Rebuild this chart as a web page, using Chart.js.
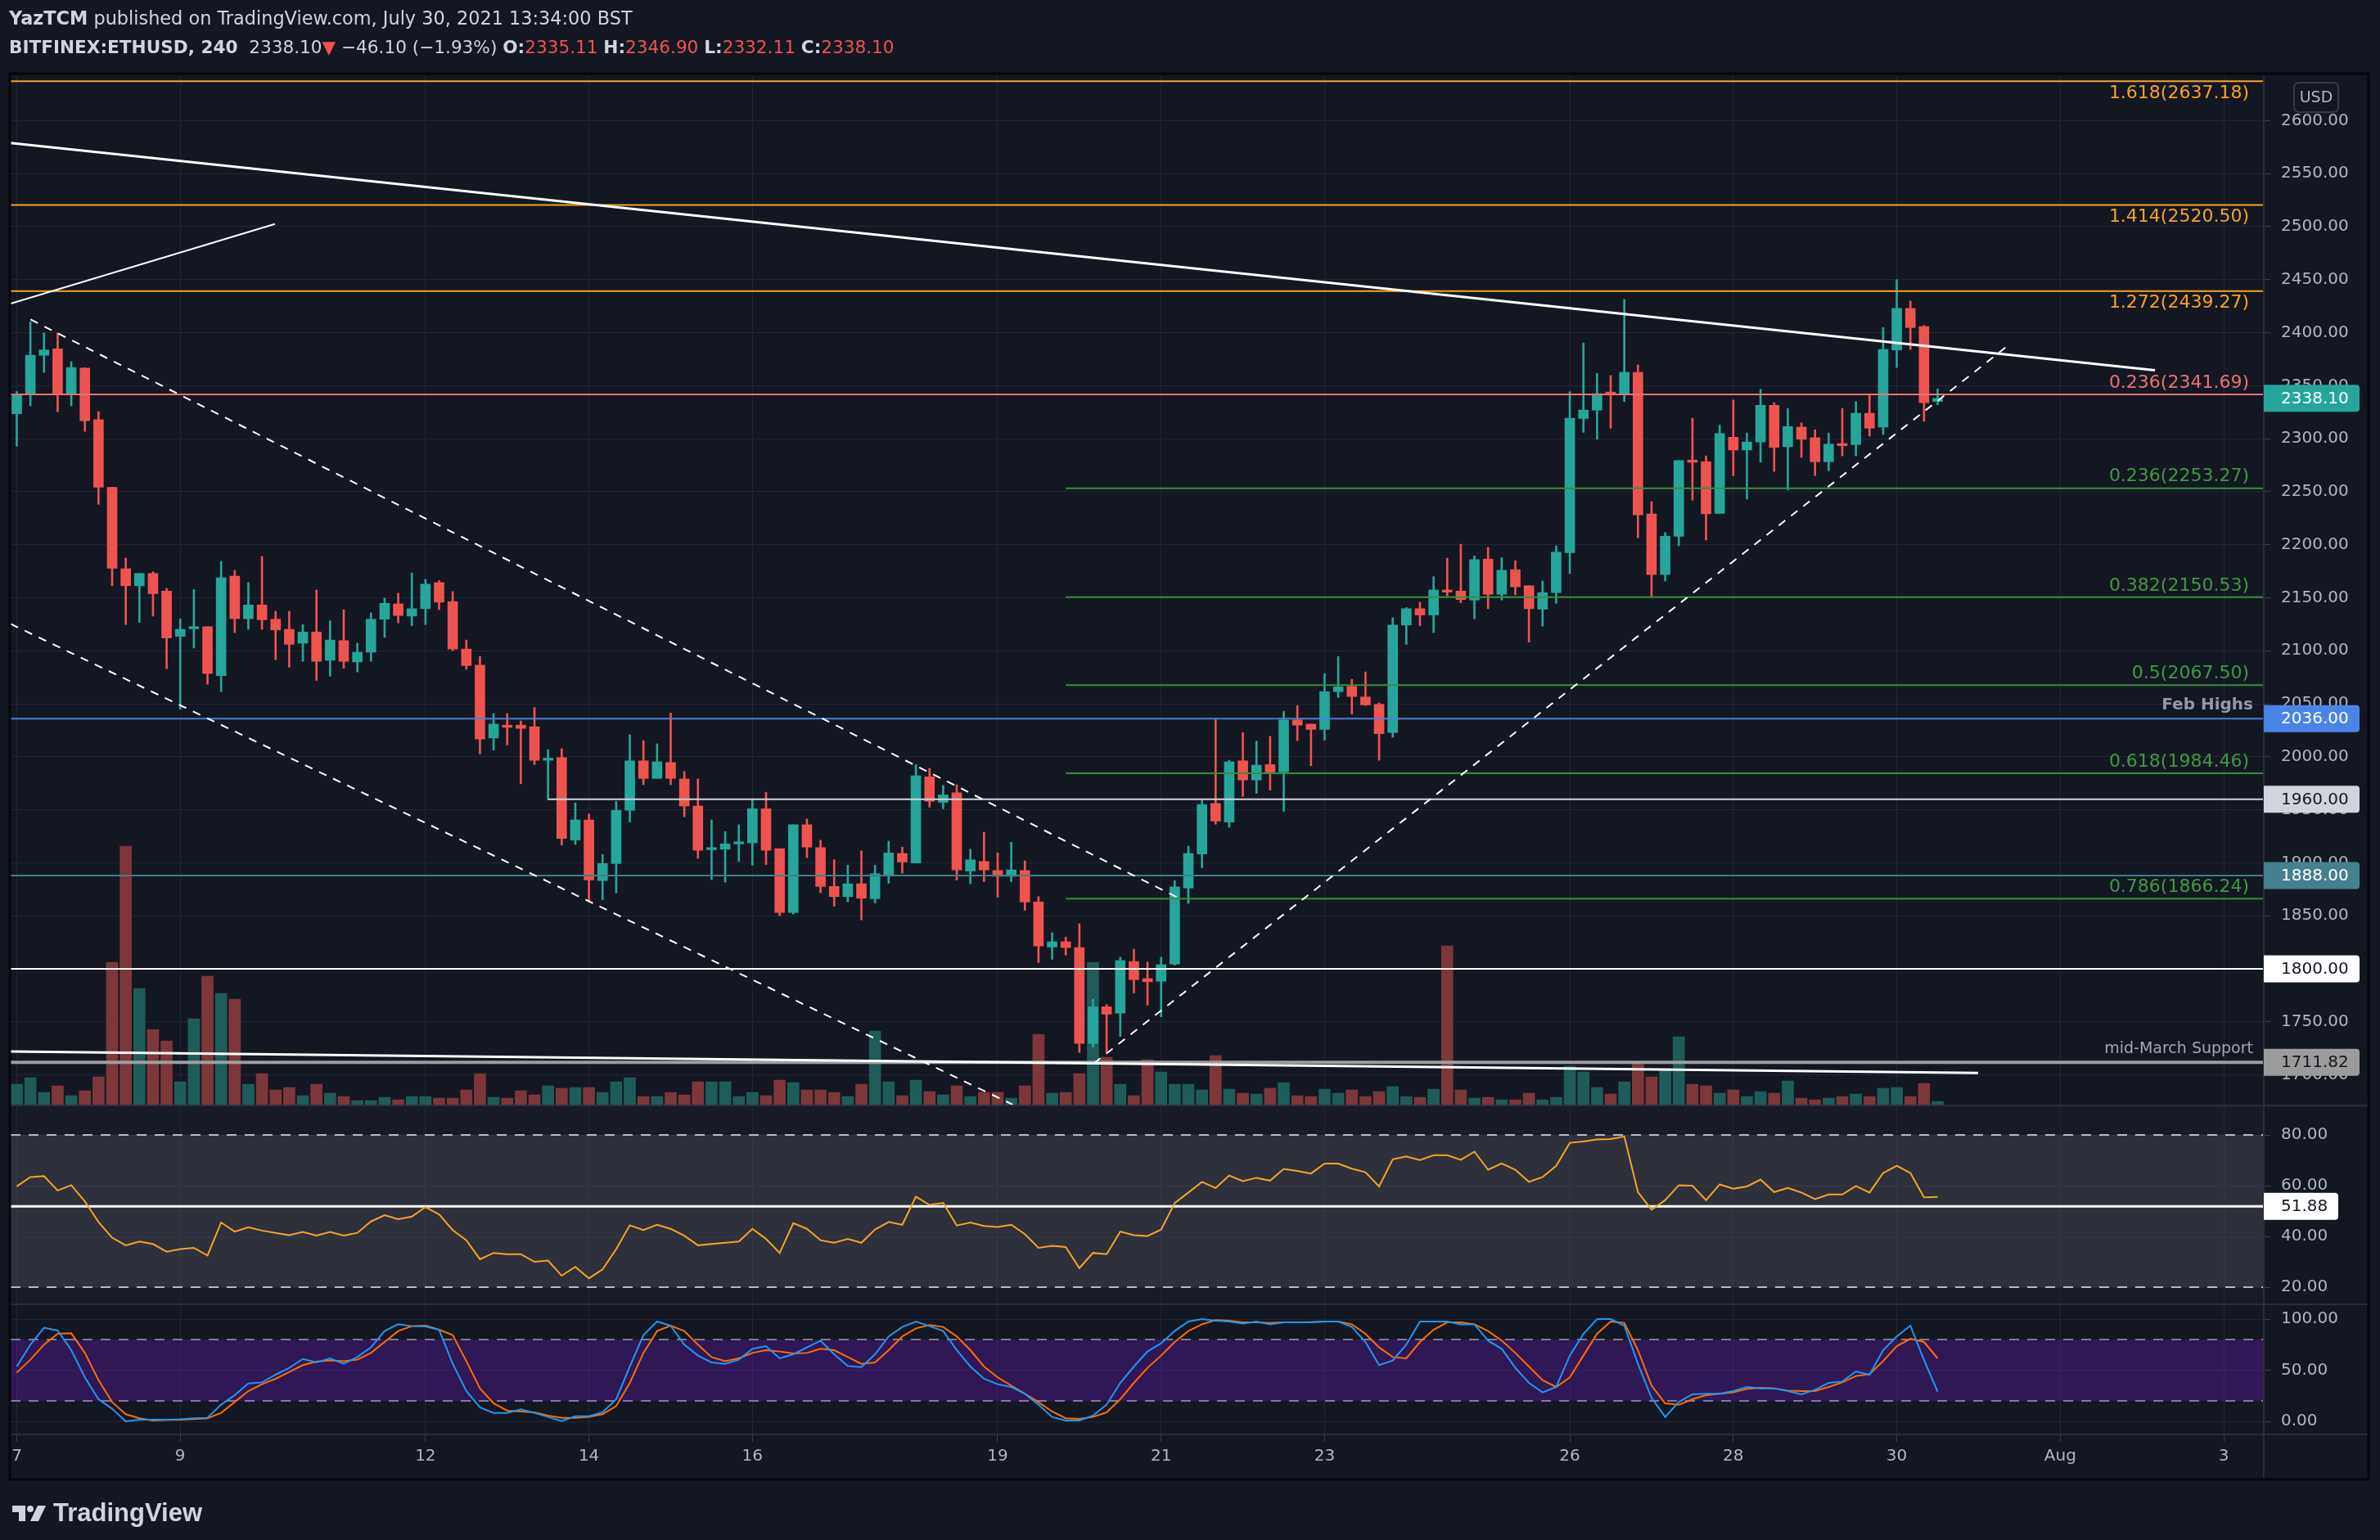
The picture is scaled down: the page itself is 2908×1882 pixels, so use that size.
<!DOCTYPE html>
<html><head><meta charset="utf-8">
<script src="https://cdn.jsdelivr.net/npm/chart.js@4/dist/chart.umd.min.js"></script>
<style>
html,body{margin:0;padding:0;background:#131722;width:2908px;height:1882px;overflow:hidden;}
#wrap{position:relative;width:2908px;height:1882px;}
canvas{position:absolute;left:0;top:0;}
.hd{position:absolute;left:11px;font-family:"DejaVu Sans";color:#d1d4dc;white-space:nowrap;line-height:26px;}
.red{color:#ef5350}
#logo{position:absolute;left:15px;top:1831px;display:flex;align-items:center;color:#d1d4dc;font:bold 31px "Liberation Sans";}
</style></head>
<body><div id="wrap"><canvas id="c" width="2908" height="1882"></canvas>
<div class="hd" style="top:9px;font-size:22.4px;"><b>YazTCM</b> published on TradingView.com, July 30, 2021 13:34:00 BST</div>
<div class="hd" style="top:45px;font-size:21.6px;"><b>BITFINEX:ETHUSD, 240</b>&nbsp; 2338.10<span class="red">▼</span> −46.10 (−1.93%) <b>O:</b><span class="red">2335.11</span> <b>H:</b><span class="red">2346.90</span> <b>L:</b><span class="red">2332.11</span> <b>C:</b><span class="red">2338.10</span></div>
<div id="logo"><svg width="44" height="24" viewBox="0 0 44 24"><path d="M0 3h16v19H8V11H0z" fill="#d1d4dc"/><circle cx="22" cy="7" r="4" fill="#d1d4dc"/><path d="M31 3h10l-9 19H22z" fill="#d1d4dc"/></svg><span style="margin-left:6px">TradingView</span></div>
</div>
<script>
// ---------------- DATA (ETHUSD 4h, Bitfinex, from Jul 7 2021 00:00) ----------------
const opens = [2323.5,2342,2378.7,2384.7,2342,2366.6,2317.9,2254.2,2177.4,2161.3,2172.9,2156.3,2113.6,2120.7,2122.7,2076.5,2170.4,2130.2,2143.2,2129.7,2120.2,2107.1,2117.6,2091,2109.6,2089.5,2098.6,2129.7,2144.2,2132.7,2139.7,2164.3,2146.3,2101.6,2086.5,2017.7,2029.8,2029.8,2028.3,1996.7,1999.2,1921.4,1940.4,1883.2,1899.3,1949.5,1996.2,1979.6,1994.6,1979.1,1953.5,1912.3,1912.8,1917.8,1918.8,1951,1913.3,1853.1,1935.9,1914.3,1877.7,1868.1,1880.2,1866.1,1888.7,1908.8,1899.8,1981.1,1957,1966,1892.2,1901.3,1892.7,1887.2,1892.7,1863.1,1820.5,1825.5,1820,1729.6,1764.2,1758.2,1806.9,1790.8,1788.3,1804.4,1876.2,1908.3,1956,1938.4,1996.2,1978.1,1992.6,1985.6,2034.8,2030.8,2025.8,2061.4,2066.4,2056.4,2049.4,2022.8,2124.2,2139.7,2133.7,2157.3,2156.3,2147.8,2186.4,2153.3,2176.4,2161.3,2139.2,2154.8,2192.5,2319,2327,2344,2342.5,2362.6,2229.1,2171.9,2208,2279.8,2278.3,2229.6,2301.4,2289.3,2296.9,2331.5,2292.4,2310.9,2300.9,2278.3,2295.4,2294.4,2324,2310.9,2383.7,2422.9,2405.8,2335.11];
const highs = [2344.5,2410.3,2399.8,2399.8,2372.7,2367,2325.5,2254.2,2187.4,2172.9,2174.4,2158.8,2130.2,2157.8,2122.7,2184.4,2175.9,2164.3,2188.9,2137.2,2137.2,2124.7,2157.3,2128.2,2138.7,2107.1,2135.7,2149.8,2154.3,2173.4,2167.3,2166.3,2155.8,2110.1,2094.5,2040.8,2040.8,2033.8,2046.4,2006.7,2007.7,1956.5,1946,1907.8,1958,2020.8,2015.2,2012.2,2041.3,1986.1,1979.1,1940.4,1929.4,1935.9,1959.5,1966.5,1913.3,1935.9,1941.4,1921.4,1902.8,1897.8,1911.3,1897.8,1920.4,1914.8,1992.6,1989.1,1973.1,1973.6,1912.8,1928.9,1909.3,1919.3,1901.8,1868.1,1834,1830,1842.5,1771.3,1766.2,1810.9,1818.5,1806.4,1810.9,1883.2,1915.8,1959,2035.8,1996.7,2022.8,2014.7,2019.3,2042.8,2048.4,2030.8,2078.5,2094.5,2073,2080,2050.9,2131.2,2140.7,2145.8,2169.9,2187.4,2200.5,2189.5,2197.5,2187.9,2184.9,2161.3,2165.8,2199,2344.5,2390.3,2361.6,2359.6,2431.4,2369.6,2240.6,2211.5,2279.3,2319.4,2283.8,2312.9,2336.5,2305.4,2346.6,2334,2328.5,2314.9,2308.4,2305.4,2328.5,2335,2342.5,2404.8,2450,2429.9,2406.8,2346.9];
const lows = [2293,2331,2362.6,2325.5,2331,2306.9,2238.1,2161.3,2124.7,2126.7,2132.7,2083,2044.9,2102.6,2068.4,2061.4,2117.1,2120.2,2120.2,2091.5,2084.5,2090,2072,2076,2083.5,2080,2090,2112.6,2126.2,2123.7,2124.7,2138.7,2100.1,2082.5,2002.7,2006.2,2011.2,1974.6,1992.6,1959.5,1916.8,1917.4,1863.1,1865.1,1871.7,1938.4,1973.6,1979.6,1973.6,1943.4,1904.3,1884.2,1881.7,1901.3,1897.8,1898.3,1850.1,1851.6,1904.8,1871.7,1859.1,1863.1,1846.1,1862.1,1880.7,1890.2,1899.8,1952.5,1951,1883.7,1880.2,1882.2,1867.6,1882.2,1855.1,1805.9,1808.9,1812.9,1721.1,1726.1,1721.1,1736.2,1777.3,1765.7,1754.7,1803.4,1861.6,1895.3,1936.4,1933.4,1962.5,1965.5,1968.5,1948.5,2015.2,1991.6,2015.7,2055.9,2040.3,2048.4,1996.7,2018.3,2106.1,2123.7,2117.1,2151.8,2145.3,2130.2,2139.7,2147.8,2152.8,2108.1,2123.2,2144.7,2172.9,2305.9,2299.4,2309.9,2335,2206.5,2151.3,2165.8,2199,2242.1,2204.5,2229.6,2265.2,2243.1,2277.8,2269.2,2251.7,2282.3,2265.2,2269.8,2283.8,2283.8,2302.4,2303.9,2367.1,2384.2,2316.4,2332.11];
const closes = [2342,2378.7,2383.7,2342,2367.1,2316.9,2254.2,2177.9,2161.3,2172.9,2153.8,2112.1,2120.2,2122.7,2078.5,2168.8,2130.2,2143.2,2129.2,2119.6,2106.1,2117.6,2090,2110.1,2090,2098.6,2129.7,2144.7,2133.2,2139.7,2162.8,2145.8,2101.6,2086,2016.7,2030.8,2027.8,2026.8,1996.7,1998.7,1922.9,1940.4,1883.7,1899.3,1949.5,1996.2,1979.6,1995.2,1979.6,1953.5,1911.8,1914.3,1917.8,1919.8,1951,1911.8,1853.1,1935.9,1914.8,1877.7,1868.1,1880.2,1866.6,1889.7,1909.3,1900.8,1982.1,1958,1964,1893.3,1902.8,1893.3,1887.2,1893.3,1863.1,1821.5,1825.5,1820,1729.6,1764.2,1757.2,1807.9,1789.8,1787.8,1803.9,1877.2,1908.8,1955,1939.4,1995.2,1978.1,1992.1,1985.6,2034.8,2029.8,2025.8,2061.4,2065.9,2056.9,2048.9,2021.8,2124.2,2139.7,2133.7,2157.3,2155.3,2148.3,2185.9,2153.3,2175.9,2160.3,2139.7,2154.8,2193,2319.4,2327,2342.5,2342,2362.6,2228.1,2171.9,2208,2279.3,2277.8,2229.1,2304.9,2289.3,2296.9,2331.5,2291.8,2311.4,2299.4,2278.3,2294.9,2293.4,2324,2309.9,2384.2,2422.9,2404.8,2334,2338.1];
const volumes = [2.5,3.3,1.5,2.3,1.1,1.7,3.4,17.4,31.6,14.2,9.2,7.8,2.8,10.5,15.7,13.6,12.9,2.5,3.8,1.8,2.1,1.1,2.5,1.4,1.0,0.5,0.5,0.9,0.6,1.0,1.0,0.8,0.8,1.8,3.8,0.9,0.8,1.7,1.2,2.3,2.0,2.1,2.1,1.5,2.8,3.3,1.0,1.0,1.5,1.2,2.8,2.8,2.8,1.0,1.5,1.1,3.0,2.7,1.8,1.8,1.5,1.0,2.5,9.0,2.8,1.1,3.0,1.6,1.2,2.3,1.0,1.5,1.5,0.8,2.3,8.6,1.4,1.5,3.8,17.4,5.8,2.5,1.1,5.5,4.0,2.5,2.5,1.8,6.0,1.9,1.4,1.3,2.0,2.7,1.1,1.0,1.9,1.4,1.8,1.0,1.6,2.2,1.0,0.9,1.9,19.4,1.8,0.8,0.9,0.6,0.6,1.4,0.6,0.9,4.7,4.0,2.1,1.3,2.8,5.1,3.4,4.4,8.3,2.5,2.3,1.4,1.8,1.0,1.6,1.4,2.9,0.8,0.6,0.8,1.0,1.3,1.0,2.0,2.1,1.0,2.6,0.4];
const rsi = [59.7,63.4,63.8,58.1,60.2,53.8,45.7,39.5,36.5,38,37,34,35,35.5,32.5,45.5,41.9,43.6,42.3,41.4,40.5,41.8,40.3,41.8,40.3,41.4,45.9,48.4,46.8,47.8,51.6,48.7,42.5,38.5,31,33.5,33,33,30,30.5,24.5,28,23.5,27,35,44.4,42.5,44.6,43,40.3,36.5,37,37.5,38,43,39,33.5,45.2,43,38.5,37.5,39,37.5,42.7,45.7,44.6,55.7,52.4,53.2,44.3,45.5,44.1,43.7,44.6,40.9,35.5,36.3,35.8,27.5,33.5,33,41.9,40.5,40.2,42.7,53.2,57.3,61.5,59.1,64,61.8,63.1,62,66.6,65.8,64.8,68.7,68.7,66.7,65.3,59.7,70.4,71.5,70.1,72,72,70.2,73.4,66.3,68.8,66.3,61.5,63.4,67.8,76.9,77.4,78.2,78.4,79.4,57.5,50.5,54.3,60.2,60,54.3,60.5,58.8,59.7,62.4,57.5,59.1,57.3,54.7,56.5,56.5,59.9,57.3,65,67.9,65,55.4,55.6];
const stochK = [53.6,75,91.5,88.8,69.6,43,21.6,12.3,0,1.6,1.6,1.6,2.1,3,3.5,16.3,25.6,37,38.1,45.6,52.3,61,57.6,61.6,56.3,62.9,72.3,88.3,94.9,93.1,92.8,89.6,56.3,29.6,13.6,8.3,8.3,11.7,8.3,4.3,0.3,5,5,8.8,21.6,53.6,84.3,97.6,93.6,75,64.3,57.6,56.3,60.3,70.9,73.6,61.6,65.6,72.3,78.9,65.6,54.1,53.1,65.6,83,92.3,97.6,93.1,88.3,69.6,53.6,41.6,36.3,33.6,27,16.3,4.3,0.8,0.8,5.6,16.3,37.6,53.6,68.3,76.3,88.3,97.6,100,98.4,97.6,95.7,97.6,94.9,96.8,96.8,96.8,97.6,97.6,92.3,77.6,55,59.5,75,97.6,97.6,97.6,94.9,94.9,78.9,70.9,52.3,37.6,28.3,33.6,64.3,85.6,100,100,93.6,56.3,22.9,4.3,18.9,26.4,27,27,29.6,33.6,32.3,32.3,29.6,26.4,30.9,37.6,38.9,48.8,45.6,69.6,83,93.6,60,29];
const stochD = [47.7,60.3,75,85.6,86.1,66.9,40.3,18.9,7,3,0.8,1.3,1.6,2.1,3,8.3,18.9,29.6,36.3,41.6,48.3,55,58.4,59.5,58.9,60.3,66.9,77.6,88.3,93.1,93.6,89.6,84.3,58.9,32.3,17.6,10.4,9.6,8.8,5.6,3.5,3.5,4.3,7,14.9,37.6,66.9,88.3,93.6,88.3,75,62.9,58.9,61.6,66.9,69.6,68.3,66.4,66.9,70.9,69.6,62.9,56.3,57.6,69.6,83,90.9,94.1,92.3,83,69.6,53.6,43,35,27,18.9,9.6,3,2.4,4.3,8.8,21.6,37.6,52.3,64.3,77.6,88.3,94.9,98.9,98.4,96.8,96.8,96.3,96.8,96.8,97.1,97.6,97.6,94.9,85.6,72.3,62.9,61.6,77.6,89.6,96.8,96.8,94.9,88.3,78.9,66.9,53.6,40.3,33.6,43,64.3,85.6,97.6,96.3,69.6,35,17.6,16.3,21.6,25.6,27,28.3,31.7,32.8,32.3,30.1,29.6,29.6,33.6,38.1,44.3,46.1,58.9,73.6,80.8,77.6,61.6];

// time axis: bar index of each labelled day, and its label
const dayTickIndex = [0,12,30,42,54,72,84,96,114,126,138,150,162];
const dayTickLabels = ["7","9","12","14","16","19","21","23","26","28","30","Aug","3"];
const priceTicks = [1700,1750,1800,1850,1900,1950,2000,2050,2100,2150,2200,2250,2300,2350,2400,2450,2500,2550,2600];
const rsiTicks = [20,40,60,80];
const stochTicks = [0,50,100];

// fib extension (full width) and retracement (from bar 77)
const fibExtRatios = ["1.618","1.414","1.272","0.236"];
const fibExtPrices = [2637.18,2520.50,2439.27,2341.69];
const fibRetRatios = ["0.236","0.382","0.5","0.618","0.786"];
const fibRetPrices = [2253.27,2150.53,2067.50,1984.46,1866.24];
const fibRetStart = 77;
// horizontal levels
const levelPrices = [2036.00,1960.00,1888.00,1800.00,1711.82];
const levelNames = ["Feb Highs","","","","mid-March Support"];
const levelStart = [null,39,null,null,null];
const rsiLevel = 51.88;
const lastPrice = 2338.10;
// trend lines: [bar index, price]
const longDownLine = [[-0.45,2578.9],[156.95,2364.6]];
const shortUpLine = [[-0.45,2427.4],[18.95,2502.5]];
const channelUpper = [[1.01,2412.4],[85.58,1864.8]];
const channelLower = [[-0.45,2125.3],[73.1,1672.0]];
const risingSupport = [[79.07,1710.9],[146.26,2388.8]];
const baseLine = [[-0.45,1722.0],[143.97,1701.8]];

// ---------------- CHART ----------------
const X_MIN = -0.45, X_MAX = 164.88;
const FONT = '"DejaVu Sans"';
const TEAL = '#26a69a', RED = '#ef5350';
const isUp = i => closes[i] >= opens[i];
const pts = arr => arr.map(p => ({x: p[0], y: p[1]}));
function lineDs(points, color, width, dash, order, axis) {
  return {type: 'line', data: pts(points), borderColor: color, borderWidth: width, borderDash: dash || [],
    pointRadius: 0, fill: false, tension: 0, order: order, yAxisID: axis || 'y', borderCapStyle: 'butt'};
}
function hLine(y, color, width, dash, order, axis, x0) {
  return lineDs([[x0 == null ? X_MIN : x0, y], [X_MAX, y]], color, width, dash, order, axis);
}

const datasets = [];
datasets.push({type: 'line', yAxisID: 'ys', data: stochK.map((v, i) => ({x: i, y: v})), borderColor: '#2196f3', borderWidth: 2, pointRadius: 0, tension: 0, order: 1});
datasets.push({type: 'line', yAxisID: 'ys', data: stochD.map((v, i) => ({x: i, y: v})), borderColor: '#ff6d00', borderWidth: 2, pointRadius: 0, tension: 0, order: 2});
datasets.push({type: 'line', yAxisID: 'yr', data: rsi.map((v, i) => ({x: i, y: v})), borderColor: '#f5a328', borderWidth: 2, pointRadius: 0, tension: 0, order: 2});
datasets.push(hLine(rsiLevel, '#ffffff', 3, [], 3, 'yr'));
datasets.push(hLine(80, '#b8bbc4', 2, [12, 10], 4, 'yr'));
datasets.push(hLine(20, '#b8bbc4', 2, [12, 10], 4, 'yr'));
datasets.push(hLine(80, '#7c7e88', 2, [12, 10], 4, 'ys'));
datasets.push(hLine(20, '#8a72a6', 2, [12, 10], 4, 'ys'));
datasets.push(Object.assign(hLine(80, 'rgba(0,0,0,0)', 0, [], 7, 'yr'), {fill: {value: 20}, backgroundColor: 'rgba(120,123,134,0.23)'}));
datasets.push(Object.assign(hLine(80, 'rgba(0,0,0,0)', 0, [], 7, 'ys'), {fill: {value: 20}, backgroundColor: 'rgba(100,25,180,0.35)'}));
// trend lines
datasets.push(lineDs(longDownLine, '#ffffff', 3, [], 3));
datasets.push(lineDs(shortUpLine, '#ffffff', 2, [], 3));
datasets.push(lineDs(channelUpper, '#ffffff', 2, [10, 9], 3));
datasets.push(lineDs(channelLower, '#ffffff', 2, [10, 9], 3));
datasets.push(lineDs(risingSupport, '#ffffff', 2, [10, 9], 3));
datasets.push(lineDs(baseLine, '#ffffff', 3, [], 3));
// fib levels
const fibExtColors = ['#f7a325', '#f7a325', '#f7a325', '#e57373'];
fibExtPrices.forEach((p, k) => datasets.push(hLine(p, fibExtColors[k], 2, [], 4)));
fibRetPrices.forEach(p => datasets.push(hLine(p, '#388e3c', 2, [], 4, 'y', fibRetStart)));
const levelColors = ['#4a7fd6', '#d1d4dc', '#3f7f8a', '#ffffff', '#9e9e9e'];
const levelWidths = [2, 2, 2, 2, 4];
levelPrices.forEach((p, k) => datasets.push(hLine(p, levelColors[k], levelWidths[k], [], 4, 'y', levelStart[k])));
// candles
datasets.push({type: 'bar', yAxisID: 'y', data: opens.map((o, i) => ({x: i, y: [o, closes[i]]})),
  backgroundColor: c => isUp(c.dataIndex) ? TEAL : RED, barThickness: 12, minBarLength: 2, grouped: false, order: 20, borderWidth: 0});
datasets.push({type: 'bar', yAxisID: 'y', data: lows.map((l, i) => ({x: i, y: [l, highs[i]]})),
  backgroundColor: c => isUp(c.dataIndex) ? TEAL : RED, barThickness: 2, grouped: false, order: 21, borderWidth: 0});
// volume
datasets.push({type: 'bar', yAxisID: 'yv', data: volumes.map((v, i) => ({x: i, y: v})),
  backgroundColor: c => isUp(c.dataIndex) ? '#1e5c59' : '#7d363a', barThickness: 14, grouped: false, order: 30, borderWidth: 0});

const gridColor = '#232733';
const tickFont = {family: FONT, size: 20};

function roundBox(ctx, x, y, w, h, r) {
  ctx.beginPath();
  ctx.moveTo(x, y); ctx.lineTo(x + w - r, y); ctx.quadraticCurveTo(x + w, y, x + w, y + r);
  ctx.lineTo(x + w, y + h - r); ctx.quadraticCurveTo(x + w, y + h, x + w - r, y + h);
  ctx.lineTo(x, y + h); ctx.closePath();
}

const decor = {
  id: 'decor',
  afterLayout(chart) {
    const y = chart.scales.y;
    ['yr', 'ys'].forEach(id => {
      const s = chart.scales[id];
      s.left = y.left; s.right = y.right; s.width = y.width;
    });
  },
  beforeDraw(chart) {
    const ctx = chart.ctx, a = chart.chartArea;
    ctx.save();
    ctx.fillStyle = '#131722'; ctx.fillRect(0, 0, chart.width, chart.height);
    ctx.fillStyle = '#181b26';
    ctx.fillRect(a.left, 1351, a.right - a.left, 1594 - 1351);
    ctx.restore();
  },
  afterDraw(chart) {
    const ctx = chart.ctx, a = chart.chartArea, y = chart.scales.y, yr = chart.scales.yr;
    ctx.save();
    // pane separators
    ctx.strokeStyle = '#2a2e39'; ctx.lineWidth = 2;
    [1351, 1594, 1753].forEach(py => { ctx.beginPath(); ctx.moveTo(a.left, py); ctx.lineTo(2893, py); ctx.stroke(); });
    ctx.beginPath(); ctx.moveTo(a.right + 1, a.top); ctx.lineTo(a.right + 1, 1808); ctx.stroke();
    // frame
    ctx.strokeStyle = '#05070b'; ctx.lineWidth = 3;
    ctx.strokeRect(12, 90, 2894 - 12, 1808 - 90);
    // fib labels
    ctx.textAlign = 'right'; ctx.textBaseline = 'middle';
    ctx.font = '22px ' + FONT;
    const lx = a.right - 17;
    fibExtPrices.forEach((p, k) => {
      ctx.fillStyle = fibExtColors[k];
      const py = y.getPixelForValue(p);
      ctx.fillText(fibExtRatios[k] + '(' + p.toFixed(2) + ')', lx, k < 3 ? py + 15 : py - 14);
    });
    ctx.fillStyle = '#3d9a41';
    fibRetPrices.forEach((p, k) => {
      ctx.fillText(fibRetRatios[k] + '(' + p.toFixed(2) + ')', lx, y.getPixelForValue(p) - 14);
    });
    // level names
    levelNames.forEach((n, k) => {
      if (!n) return;
      const py = y.getPixelForValue(levelPrices[k]);
      if (k === 0) { ctx.font = 'bold 20px ' + FONT; ctx.fillStyle = '#9598a1'; }
      else { ctx.font = '19px ' + FONT; ctx.fillStyle = '#a3a6af'; }
      ctx.fillText(n, a.right - 12, py - 16);
    });
    // price-axis boxes
    const bx = a.right + 1;
    function box(py, text, fill, color, w) {
      ctx.fillStyle = fill; roundBox(ctx, bx, py - 16.5, w, 33, 4); ctx.fill();
      ctx.fillStyle = color; ctx.font = '20px ' + FONT; ctx.textAlign = 'left'; ctx.textBaseline = 'middle';
      ctx.fillText(text, bx + 21, py + 1);
    }
    const boxFill = ['#4a84e8', '#d1d4dc', '#45818e', '#ffffff', '#9b9b9b'];
    const boxText = ['#ffffff', '#131722', '#ffffff', '#131722', '#131722'];
    levelPrices.forEach((p, k) => box(y.getPixelForValue(p), p.toFixed(2), boxFill[k], boxText[k], 117));
    box(y.getPixelForValue(lastPrice), lastPrice.toFixed(2), TEAL, '#ffffff', 117);
    box(yr.getPixelForValue(rsiLevel), rsiLevel.toFixed(2), '#ffffff', '#131722', 91);
    // USD badge
    ctx.strokeStyle = '#363a45'; ctx.lineWidth = 2; ctx.fillStyle = '#131722';
    ctx.beginPath();
    const ux = 2803, uy = 101, uw = 54, uh = 36, ur = 6;
    ctx.moveTo(ux + ur, uy); ctx.arcTo(ux + uw, uy, ux + uw, uy + uh, ur); ctx.arcTo(ux + uw, uy + uh, ux, uy + uh, ur);
    ctx.arcTo(ux, uy + uh, ux, uy, ur); ctx.arcTo(ux, uy, ux + uw, uy, ur); ctx.closePath();
    ctx.fill(); ctx.stroke();
    ctx.fillStyle = '#b2b5be'; ctx.font = '19px ' + FONT; ctx.textAlign = 'center'; ctx.textBaseline = 'middle';
    ctx.fillText('USD', ux + uw / 2, uy + uh / 2 + 1);
    ctx.restore();
  }
};

function yAxis(min, max, ticks, weight, width) {
  return {
    type: 'linear', position: 'right', min: min, max: max, weight: weight,
    afterBuildTicks: s => { s.ticks = ticks.map(v => ({value: v})); },
    afterFit: s => { s.width = width; },
    ticks: {font: tickFont, color: '#b2b5be', padding: 13, callback: v => Number(v).toFixed(2)},
    grid: {color: gridColor, lineWidth: 1, drawTicks: true, tickLength: 9, tickColor: '#3b3f4a'},
    border: {display: false}
  };
}

new Chart(document.getElementById('c'), {
  type: 'bar',
  data: {datasets: datasets},
  options: {
    responsive: false, devicePixelRatio: 1, animation: false, events: [],
    layout: {padding: {left: 13, top: 93, right: 15, bottom: 74}},
    plugins: {legend: {display: false}, tooltip: {enabled: false}},
    scales: {
      x: {
        type: 'linear', position: 'bottom', min: X_MIN, max: X_MAX, offset: false,
        afterBuildTicks: s => { s.ticks = dayTickIndex.map(v => ({value: v})); },
        afterFit: s => { s.height = 55; },
        ticks: {autoSkip: false, maxRotation: 0, font: tickFont, color: '#b2b5be', padding: 6,
          callback: v => { const k = dayTickIndex.indexOf(v); return k >= 0 ? dayTickLabels[k] : ''; }},
        grid: {color: gridColor, lineWidth: 1, offset: false, drawTicks: true, tickLength: 9, tickColor: '#3b3f4a'},
        border: {display: false}
      },
      y: yAxis(1360.83, 2641.99, priceTicks, 2, 128),
      yr: yAxis(-38.06, 497.42, rsiTicks, 0, 0),
      ys: yAxis(-12.8, 1315.2, stochTicks, 1, 0),
      yv: {type: 'linear', display: false, min: -40.3, max: 125.7}
    }
  },
  plugins: [decor]
});
</script>
</body></html>
